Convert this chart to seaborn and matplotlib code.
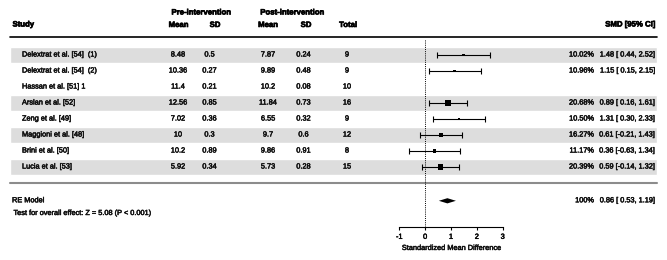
import numpy as np
import pandas as pd
import matplotlib
matplotlib.use("Agg")
import matplotlib.pyplot as plt
import matplotlib.patheffects as pe
import seaborn as sns

# ---------------- data ----------------
studies = ["Delextrat et al. [54]  (1)", "Delextrat et al. [54]  (2)", "Hassan et al. [51] 1",
           "Arslan et al. [52]", "Zeng et al. [49]", "Maggioni et al. [48]",
           "Brini et al. [50]", "Lucia et al. [53]"]
pre_mean = ["8.48", "10.36", "11.4", "12.56", "7.02", "10", "10.2", "5.92"]
pre_sd = ["0.5", "0.27", "0.21", "0.85", "0.36", "0.3", "0.89", "0.34"]
post_mean = ["7.87", "9.89", "10.2", "11.84", "6.55", "9.7", "9.86", "5.73"]
post_sd = ["0.24", "0.48", "0.08", "0.73", "0.32", "0.6", "0.91", "0.28"]
total = [9, 9, 10, 16, 9, 12, 8, 15]
weight = [10.02, 10.96, np.nan, 20.68, 10.50, 16.27, 11.17, 20.39]
smd = [1.48, 1.15, np.nan, 0.89, 1.31, 0.61, 0.36, 0.59]
ci_lo = [0.44, 0.15, np.nan, 0.16, 0.30, -0.21, -0.63, -0.14]
ci_hi = [2.52, 2.15, np.nan, 1.61, 2.33, 1.43, 1.34, 1.32]
shaded = [True, False, False, True, False, True, False, True]
pooled_est, pooled_lo, pooled_hi = 0.86, 0.53, 1.19
overall_text = "Test for overall effect: Z = 5.08 (P < 0.001)"
x_ticks = [-1, 0, 1, 2, 3]

# ---------------- style ----------------
sns.set_theme(style="white")
plt.rcParams["font.family"] = ["Liberation Sans", "DejaVu Sans"]
FS = 5.3
FSH = 5.6
thick = [pe.withStroke(linewidth=0.35, foreground="#111111")]
thickh = [pe.withStroke(linewidth=0.45, foreground="black")]

W, H = 667, 260
fig = plt.figure(figsize=(W / 100, H / 100), dpi=100)
fig.patch.set_facecolor("white")

# row r is at pixel y = Y0 + DY * r
Y0, DY = 55.0, 16.0
def r_of(py):
    return (py - Y0) / DY

# background axes in pixel-x / row-y units
ax_bg = fig.add_axes([0, 0, 1, 1])
ax_bg.set_xlim(0, W)
ax_bg.set_ylim(r_of(H), r_of(0))
ax_bg.axis("off")

rows = np.arange(len(studies))
df = pd.DataFrame({"study": studies, "row": rows, "smd": smd, "lo": ci_lo, "hi": ci_hi,
                   "weight": weight, "shaded": shaded})

# shaded bands
sh = df[df["shaded"]]
ax_bg.barh(sh["row"], width=647, left=10, height=0.96, color="#dddddd", zorder=0)

# header
bold = dict(fontsize=FSH, fontweight="bold", va="center", color="black", path_effects=thickh)
ax_bg.text(201, r_of(13), "Pre-intervention", ha="center", **bold)
ax_bg.text(292, r_of(13), "Post-intervention", ha="center", **bold)
ax_bg.text(12.5, r_of(25), "Study", ha="left", **bold)
ax_bg.text(178.5, r_of(25.5), "Mean", ha="center", **bold)
ax_bg.text(215, r_of(25.5), "SD", ha="center", **bold)
ax_bg.text(268, r_of(25.5), "Mean", ha="center", **bold)
ax_bg.text(306, r_of(25.5), "SD", ha="center", **bold)
ax_bg.text(348, r_of(25.5), "Total", ha="center", **bold)
ax_bg.text(655, r_of(25), "SMD [95% CI]", ha="right", **bold)

ax_bg.plot([10, 657], [r_of(37.5), r_of(37.5)], color="black", lw=1.2)
ax_bg.plot([10, 657], [r_of(183), r_of(183)], color="#8c8c8c", lw=1.5)

reg = dict(fontsize=FS, va="center", color="#111111", path_effects=thick)
for i, r in enumerate(rows):
    ax_bg.text(22, r, studies[i], ha="left", **reg)
    ax_bg.text(178, r, pre_mean[i], ha="center", **reg)
    ax_bg.text(209.5, r, pre_sd[i], ha="center", **reg)
    ax_bg.text(268, r, post_mean[i], ha="center", **reg)
    ax_bg.text(303.5, r, post_sd[i], ha="center", **reg)
    ax_bg.text(347, r, str(total[i]), ha="center", **reg)
    if not np.isnan(smd[i]):
        ax_bg.text(594, r, f"{weight[i]:.2f}%", ha="right", **reg)
        lo_s = f"{ci_lo[i]:.2f}" if ci_lo[i] < 0 else f" {ci_lo[i]:.2f}"
        ax_bg.text(655, r, f"{smd[i]:.2f} [{lo_s}, {ci_hi[i]:.2f}]", ha="right", **reg)

r_pool = r_of(200.8)
ax_bg.text(12, r_pool, "RE Model", ha="left", **reg)
ax_bg.text(13.5, r_of(213.5), overall_text, ha="left", **reg)
ax_bg.text(594, r_pool, "100%", ha="right", **reg)
ax_bg.text(655, r_pool, f"{pooled_est:.2f} [ {pooled_lo:.2f}, {pooled_hi:.2f}]", ha="right", **reg)

# forest axes: x = -1 at px 399.3, x = 3 at px 502.7 ; y from px 38 to 227
xl, xr = 399.3, 502.7
yt, yb = 38.5, 227.0
ax = fig.add_axes([xl / W, (H - yb) / H, (xr - xl) / W, (yb - yt) / H])
ax.set_facecolor("none")
ax.set_xlim(-1, 3)
ax.set_ylim(r_of(yb), r_of(yt))

ax.axvline(0, color="black", lw=0.7, ls=(0, (1, 1.2)), zorder=1)

d = df.dropna()
ax.errorbar(d["smd"], d["row"], xerr=[d["smd"] - d["lo"], d["hi"] - d["smd"]],
            fmt="none", ecolor="black", elinewidth=0.8, capsize=2.0, capthick=0.8, zorder=2)
size_map = {w: (w * 0.27 * 0.72) ** 2 for w in d["weight"]}
sns.scatterplot(data=d, x="smd", y="row", size="weight", sizes=size_map, marker="s",
                color="black", linewidth=0, legend=False, ax=ax, zorder=3)

# pooled diamond
dh = 2.6 / DY
ax.fill([pooled_lo, pooled_est, pooled_hi, pooled_est],
        [r_pool, r_pool - dh, r_pool, r_pool + dh], color="black", lw=0, clip_on=False)

for s in ["left", "top", "right"]:
    ax.spines[s].set_visible(False)
ax.spines["bottom"].set_bounds(-1, 3)
ax.spines["bottom"].set_color("black")
ax.spines["bottom"].set_linewidth(0.8)
ax.set_xticks(x_ticks)
ax.set_xticklabels([str(t) for t in x_ticks])
ax.set_yticks([])
ax.tick_params(axis="x", direction="out", length=2.4, width=0.8, pad=2.5,
               labelsize=FS, bottom=True, colors="black")
for lab in ax.get_xticklabels():
    lab.set_path_effects(thick)
ax.set_xlabel("Standardized Mean Difference", fontsize=FS, labelpad=3, color="#111111",
              path_effects=thick)
ax.set_ylabel("")

fig.savefig("out.png", dpi=100, facecolor="white")
